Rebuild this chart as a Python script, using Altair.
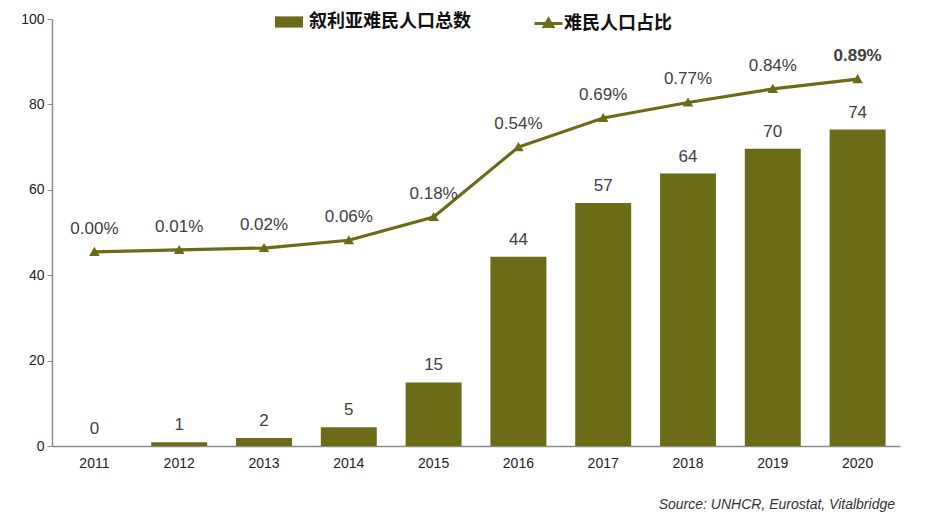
import altair as alt
import pandas as pd

years = ["2011", "2012", "2013", "2014", "2015", "2016", "2017", "2018", "2019", "2020"]
refugees = [0.0, 0.9, 1.9, 4.4, 14.9, 44.3, 56.9, 63.8, 69.6, 74.1]
refugee_labels = ["0", "1", "2", "5", "15", "44", "57", "64", "70", "74"]
shares = [0.00, 0.01, 0.02, 0.06, 0.18, 0.54, 0.69, 0.77, 0.84, 0.89]
share_labels = ["0.00%", "0.01%", "0.02%", "0.06%", "0.18%", "0.54%", "0.69%", "0.77%", "0.84%", "0.89%"]

bar_name = "叙利亚难民人口总数"
line_name = "难民人口占比"

OLIVE = "#6b6b18"
TXT = "#404040"

df = pd.DataFrame({
    "year": years,
    "refugees": refugees,
    "rlabel": refugee_labels,
    "share": shares,
    "slabel": share_labels,
    "bar_series": [bar_name] * len(years),
    "line_series": [line_name] * len(years),
})

x = alt.X("year:N", title=None, sort=years,
          scale=alt.Scale(paddingInner=0.34, paddingOuter=0.17),
          axis=alt.Axis(labelAngle=0, ticks=False, domainColor="#8c8c8c", domainWidth=1.5,
                        labelFont="Liberation Sans Narrow, Liberation Sans", labelFontSize=14,
                        labelColor="#222222", labelPadding=10))

yleft = alt.Y("refugees:Q", title=None,
              scale=alt.Scale(domain=[0, 100], nice=False),
              axis=alt.Axis(values=[0, 20, 40, 60, 80, 100], grid=False, domainColor="#8c8c8c",
                            domainWidth=1.5, tickColor="#8c8c8c", tickSize=5,
                            labelFont="Liberation Sans", labelFontSize=14, labelColor="#222222",
                            labelPadding=3))

base = alt.Chart(df)

bars = base.mark_bar(color=OLIVE).encode(
    x=x,
    y=yleft,
    fill=alt.Fill("bar_series:N", scale=alt.Scale(range=[OLIVE]),
                  legend=alt.Legend(title=None, orient="none", legendX=223, legendY=-11,
                                    symbolType="M-1,-0.4H1V0.4H-1Z", symbolSize=784,
                                    symbolStrokeWidth=0, labelFont="Noto Sans CJK SC",
                                    labelFontSize=18, labelFontWeight="bold", labelColor="#111111",
                                    labelOffset=6, labelLimit=400, padding=0)),
)

bar_text = base.mark_text(baseline="bottom", dy=-8, font="Liberation Sans", fontSize=17,
                          color=TXT).encode(
    x=x,
    y=alt.Y("refugees:Q", scale=alt.Scale(domain=[0, 100], nice=False), axis=None),
    text="rlabel:N",
)

yright = alt.Y("share:Q", scale=alt.Scale(domain=[-1.0, 1.2], nice=False), axis=None)

line = base.mark_line(strokeWidth=3.2, point=alt.OverlayMarkDef(shape="triangle-up", size=50,
                                                                filled=True, color=OLIVE)).encode(
    x=x,
    y=yright,
    stroke=alt.Stroke("line_series:N", scale=alt.Scale(range=[OLIVE]),
                      legend=alt.Legend(title=None, orient="none", legendX=481, legendY=-11,
                                        symbolType="M-1,0H1M0,-0.3L0.3,0.22H-0.3Z",
                                        symbolSize=784, symbolStrokeWidth=3,
                                        symbolFillColor=OLIVE,
                                        labelFont="Noto Sans CJK SC", labelFontSize=18,
                                        labelFontWeight="bold", labelColor="#111111",
                                        labelOffset=0, labelLimit=400, padding=0)),
)

line_text = base.transform_filter(alt.datum.year != "2020").mark_text(
    baseline="bottom", dy=-14, font="Liberation Sans", fontSize=17, color=TXT).encode(
    x=x, y=yright, text="slabel:N")

line_text_last = base.transform_filter(alt.datum.year == "2020").mark_text(
    baseline="bottom", dy=-14, font="Liberation Sans", fontSize=17, fontWeight="bold",
    color=TXT).encode(
    x=x, y=yright, text="slabel:N")

source = alt.Chart(pd.DataFrame({"t": ["Source: UNHCR, Eurostat, Vitalbridge"]})).mark_text(
    align="right", baseline="middle", font="Liberation Sans Narrow, Liberation Sans",
    fontSize=14, fontStyle="italic", color="#333333").encode(
    x=alt.value(843), y=alt.value(486), text="t:N")

chart = alt.layer(bars, bar_text, line, line_text, line_text_last, source).resolve_scale(
    y="independent", fill="independent", stroke="independent"
).properties(
    width=848, height=427,
    autosize=alt.AutoSizeParams(type="none"),
    padding={"left": 44, "top": 11, "right": 25, "bottom": 66},
).configure_view(stroke=None)

chart.save("out.html", embed_options={"renderer": "svg", "actions": False})
